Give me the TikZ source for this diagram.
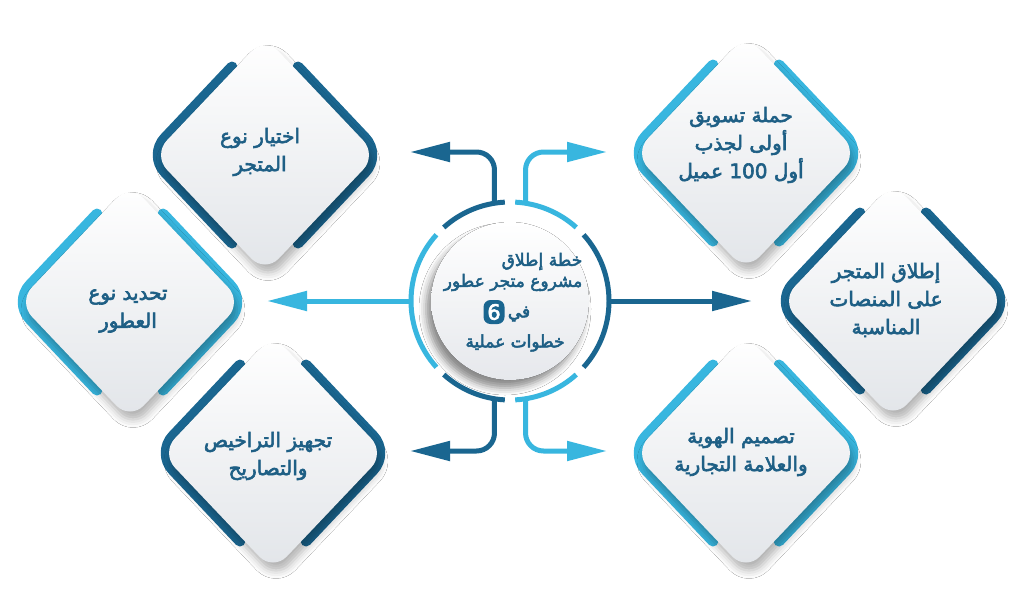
\documentclass[tikz,border=0pt]{standalone}
\usepackage{fontspec}
\usepackage{xcolor}
\usepackage{tikz}
\usetikzlibrary{arrows.meta, calc, shadows.blur}
\newfontfamily\arabicfont[Script=Arabic, FakeBold=3]{DejaVu Sans}
\TeXXeTstate=1

\definecolor{darkblue}{HTML}{1A6690}
\definecolor{lightblue}{HTML}{38B6DF}
\definecolor{textblue}{HTML}{1E5F85}
\definecolor{cardgrey}{HTML}{E2E5E9}
\definecolor{discgrey}{HTML}{E6E8EC}

\tikzset{
  cardpath/.style={insert path={(-112,0) -- (0,-118) -- (112,0) -- (0,118) -- cycle}},
  card/.style={rounded corners=20pt, top color=white, bottom color=cardgrey,
    blur shadow={shadow xshift=3pt, shadow yshift=-8pt, shadow blur radius=8pt, shadow opacity=30}},
  band/.style={line width=11pt, line cap=round, line join=round, rounded corners=23pt},
  cardtext/.style={align=center, text=textblue, font=\arabicfont\fontsize{20}{28}\selectfont},
  hubtext/.style={align=center, text=textblue, font=\arabicfont\fontsize{17}{21}\selectfont},
  flow/.style={line width=5pt, -{Triangle[length=40pt, width=19pt]}, rounded corners=18pt},
  ring/.style={line width=5pt},
  disc/.style={top color=white, bottom color=discgrey,
    blur shadow={shadow xshift=-5pt, shadow yshift=-8pt, shadow blur radius=7pt, shadow opacity=45}},
}

\begin{document}
\begin{tikzpicture}[x=1pt, y=-1pt]
\useasboundingbox (0,0) rectangle (1024,611);
\fill[white] (0,0) rectangle (1024,611);

% Left side cards
\begin{scope}[shift={(265,155)}]
\draw[band, darkblue] (-33,-88) -- (-116,0) -- (-33,88);
\draw[band, darkblue] (33,-88) -- (116,0) -- (33,88);
\path[card, cardpath];
\end{scope}
\begin{scope}[shift={(130,302)}]
\draw[band, lightblue] (-33,-88) -- (-116,0) -- (-33,88);
\draw[band, lightblue] (33,-88) -- (116,0) -- (33,88);
\path[card, cardpath];
\end{scope}
\begin{scope}[shift={(273,453)}]
\draw[band, darkblue] (-33,-88) -- (-116,0) -- (-33,88);
\draw[band, darkblue] (33,-88) -- (116,0) -- (33,88);
\path[card, cardpath];
\end{scope}

% Right side cards
\begin{scope}[shift={(746,153)}]
\draw[band, lightblue] (-33,-88) -- (-116,0) -- (-33,88);
\draw[band, lightblue] (33,-88) -- (116,0) -- (33,88);
\path[card, cardpath];
\end{scope}
\begin{scope}[shift={(893,301)}]
\draw[band, darkblue] (-33,-88) -- (-116,0) -- (-33,88);
\draw[band, darkblue] (33,-88) -- (116,0) -- (33,88);
\path[card, cardpath];
\end{scope}
\begin{scope}[shift={(746,453)}]
\draw[band, lightblue] (-33,-88) -- (-116,0) -- (-33,88);
\draw[band, lightblue] (33,-88) -- (116,0) -- (33,88);
\path[card, cardpath];
\end{scope}

% Card labels
\node[cardtext] (storetype) at (260,152) {\beginR اختيار نوع\endR\\\beginR المتجر\endR};
\node[cardtext] (perfumetype) at (128,311) {\beginR تحديد نوع\endR\\\beginR العطور\endR};
\node[cardtext] (licenses) at (268,456) {\beginR تجهيز التراخيص\endR\\\beginR والتصاريح\endR};
\node[cardtext] (marketing) at (741,145) {\beginR حملة تسويق\endR\\\beginR أولى لجذب\endR\\\beginR أول 100 عميل\endR};
\node[cardtext] (launch) at (886,300) {\beginR إطلاق المتجر\endR\\\beginR على المنصات\endR\\\beginR المناسبة\endR};
\node[cardtext] (identity) at (741,452) {\beginR تصميم الهوية\endR\\\beginR والعلامة التجارية\endR};

% Hub and arrows
\node[circle, minimum size=198pt, inner sep=0pt] (hub) at (510,301) {};
\coordinate (tipTL) at (410,152);
\coordinate (tipTR) at (607,152);
\coordinate (tipL) at (267,301);
\coordinate (tipR) at (752,301);
\coordinate (tipBL) at (410,451);
\coordinate (tipBR) at (607,451);

\draw[flow, darkblue] (hub.99) |- (tipTL);
\draw[flow, lightblue] (hub.81) |- (tipTR);
\draw[flow, lightblue] (hub.west) -- (tipL);
\draw[flow, darkblue] (hub.east) -- (tipR);
\draw[flow, darkblue] (hub.261) |- (tipBL);
\draw[flow, lightblue] (hub.279) |- (tipBR);

% Segmented ring
\draw[ring, darkblue] (hub.center) ++(93:99pt) arc[start angle=93, end angle=132, radius=99pt];
\draw[ring, lightblue] (hub.center) ++(138:99pt) arc[start angle=138, end angle=222, radius=99pt];
\draw[ring, darkblue] (hub.center) ++(228:99pt) arc[start angle=228, end angle=267, radius=99pt];
\draw[ring, lightblue] (hub.center) ++(273:99pt) arc[start angle=273, end angle=312, radius=99pt];
\draw[ring, darkblue] (hub.center) ++(318:99pt) arc[start angle=318, end angle=402, radius=99pt];
\draw[ring, lightblue] (hub.center) ++(48:99pt) arc[start angle=48, end angle=87, radius=99pt];
\fill[disc] (hub.center) circle[radius=79pt];

% Hub title
\node[hubtext, align=right] (title) at (513,272) {\beginR خطة إطلاق\endR\\\beginR مشروع متجر عطور\endR};
\node[fill=darkblue, rounded corners=7pt, minimum width=21pt, minimum height=24pt, inner sep=0pt,
  text=white, font=\arabicfont\fontsize{21}{21}\selectfont] (six) at (494,312) {6};
\node[hubtext] (fi) at (519,314) {\beginR في\endR};
\node[hubtext] (steps) at (515,343) {\beginR خطوات عملية\endR};
\end{tikzpicture}
\end{document}
